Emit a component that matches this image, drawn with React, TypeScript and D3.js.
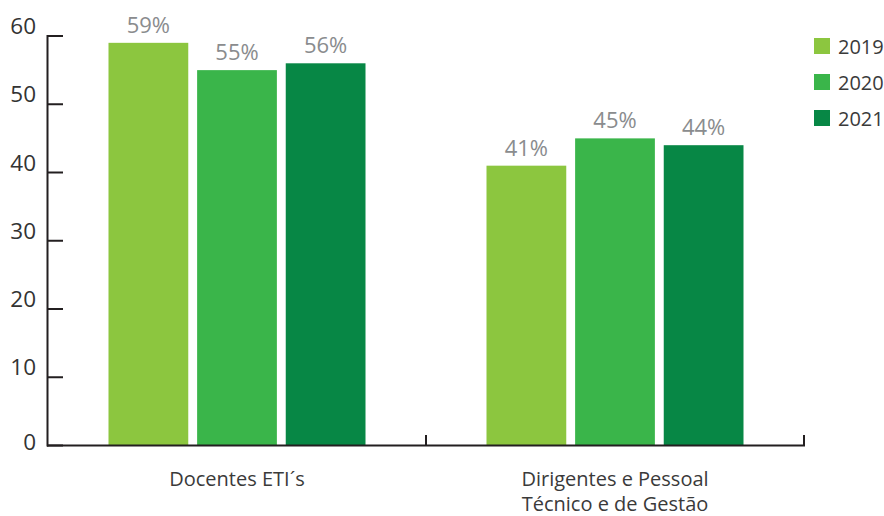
import React from "react";
import * as d3 from "d3";

const categories: string[][] = [["Docentes ETI´s"], ["Dirigentes e Pessoal", "Técnico e de Gestão"]];
const seriesNames = ["2019", "2020", "2021"];
const values2019 = [59, 41];
const values2020 = [55, 45];
const values2021 = [56, 44];
const yTicks = [0, 10, 20, 30, 40, 50, 60];
const colors = ["#8CC63F", "#3AB54A", "#078745"];

const W = 884, H = 516;
const FONT = "'Open Sans', 'Noto Sans', sans-serif";

export default function App() {
  const series = [values2019, values2020, values2021];
  const x0 = d3.scaleBand<number>().domain(categories.map((_, i) => i)).range([48, 804]).paddingInner(0).paddingOuter(0);
  const x1 = d3.scaleBand<number>().domain(seriesNames.map((_, i) => i)).range([0, 257]).paddingInner(0.1).paddingOuter(0);
  const y = d3.scaleLinear().domain([0, 60]).range([445.5, 36]);
  const groupOffset = (x0.bandwidth() - 257) / 2;
  const axisColor = "#231F20";

  return (
    <div style={{ position: "absolute", left: 0, top: 0 }}>
      <svg width={W} height={H} style={{ display: "block" }}>
        {categories.map((cat, ci) => (
          <g key={ci} transform={`translate(${(x0(ci) ?? 0) + groupOffset},0)`}>
            {series.map((vals, si) => (
              <g key={si}>
                <rect x={x1(si)} y={y(vals[ci])} width={x1.bandwidth()} height={y(0) - y(vals[ci])} fill={colors[si]} />
                <text x={(x1(si) ?? 0) + x1.bandwidth() / 2} y={y(vals[ci]) - 10} textAnchor="middle" fontFamily={FONT} fontSize={22} fill="#8a8c8e">
                  {vals[ci]}%
                </text>
              </g>
            ))}
          </g>
        ))}
        <line x1={47.5} x2={47.5} y1={35} y2={446.5} stroke={axisColor} strokeWidth={2} />
        <line x1={47} x2={805} y1={445.5} y2={445.5} stroke={axisColor} strokeWidth={2} />
        {yTicks.map((t) => (
          <g key={t}>
            <line x1={47} x2={63} y1={y(t)} y2={y(t)} stroke={axisColor} strokeWidth={2} />
            <text x={36} y={t === 0 ? y(t) + 4.5 : y(t) - 2} textAnchor="end" fontFamily={FONT} fontSize={22.5} fill="#333">
              {t}
            </text>
          </g>
        ))}
        {[x0(1) ?? 0, 804].map((xt, i) => (
          <line key={i} x1={xt} x2={xt} y1={446} y2={435} stroke={axisColor} strokeWidth={2} />
        ))}
        {categories.map((cat, ci) => (
          <text key={ci} x={(x0(ci) ?? 0) + x0.bandwidth() / 2} y={486} textAnchor="middle" fontFamily={FONT} fontSize={20} fill="#3a3a3a">
            {cat.map((line, li) => (
              <tspan key={li} x={(x0(ci) ?? 0) + x0.bandwidth() / 2} dy={li === 0 ? 0 : 25}>{line}</tspan>
            ))}
          </text>
        ))}
        {seriesNames.map((s, i) => (
          <g key={s} transform={`translate(814,${38 + i * 36})`}>
            <rect x={0} y={0} width={16} height={16} fill={colors[i]} />
            <text x={24} y={16} fontFamily={FONT} fontSize={20} fill="#3a3a3a">{s}</text>
          </g>
        ))}
      </svg>
    </div>
  );
}
